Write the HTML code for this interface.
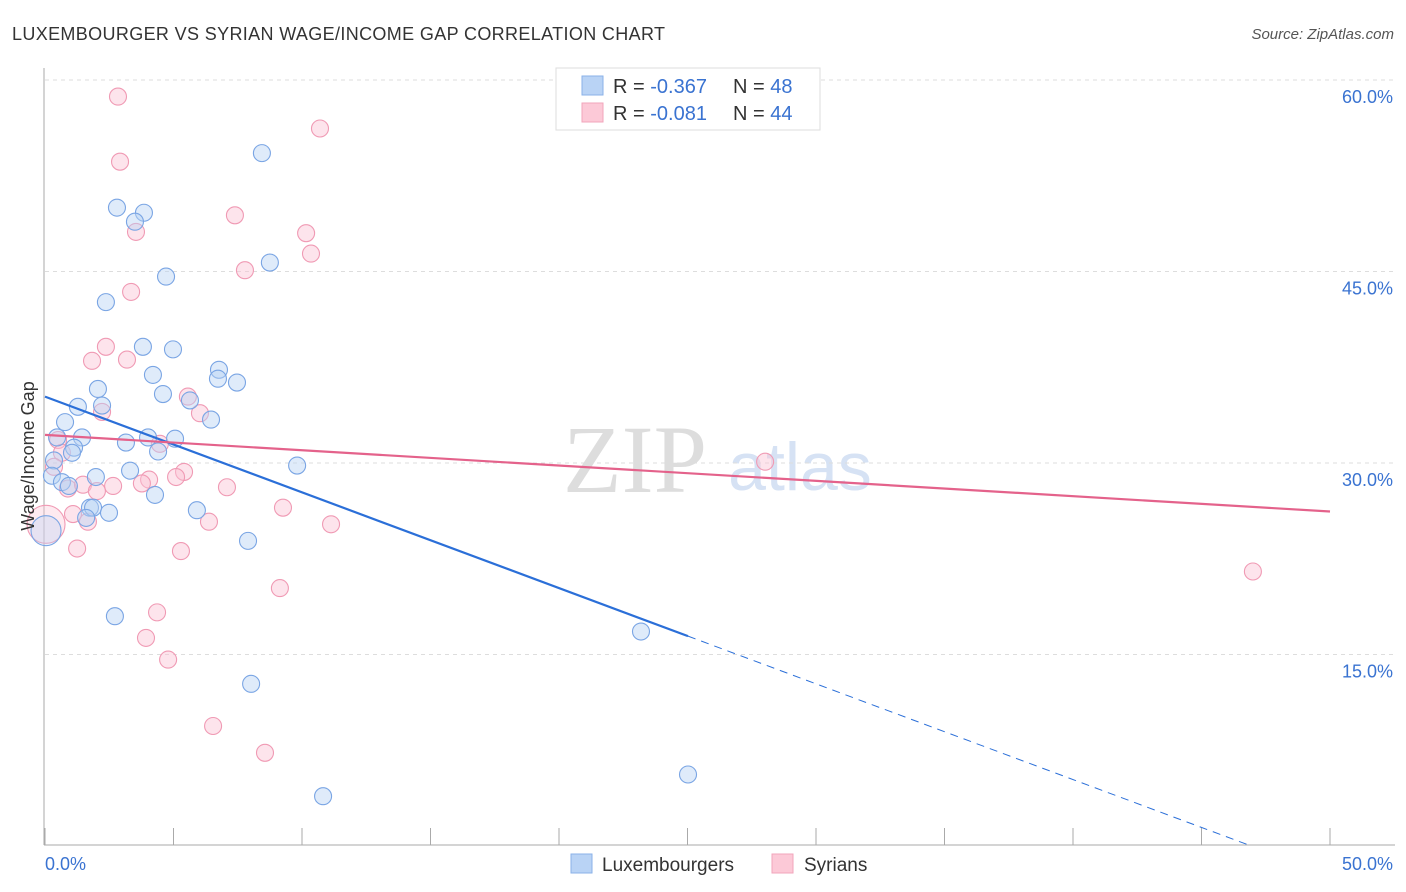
<!DOCTYPE html>
<html><head><meta charset="utf-8"><style>
body{margin:0;background:#fff;font-family:"Liberation Sans",sans-serif;}
svg{display:block}
</style></head><body>
<svg id="chart" width="1406" height="892">
<text x="12" y="40" font-size="18" fill="#333" textLength="653" lengthAdjust="spacing">LUXEMBOURGER VS SYRIAN WAGE/INCOME GAP CORRELATION CHART</text>
<text x="1394" y="39" font-size="15" fill="#555" text-anchor="end" font-style="italic">Source: ZipAtlas.com</text>
<text x="635" y="492" font-size="96" fill="#ddd" text-anchor="middle" font-family="Liberation Serif,serif">ZIP</text>
<text x="800" y="490" font-size="68" fill="#d6e2f4" text-anchor="middle">atlas</text>
<g id="grid"></g><g id="axes"></g><g id="pts"></g><g id="trends"></g>
<text transform="translate(34,456) rotate(-90)" font-size="18" fill="#333" text-anchor="middle">Wage/Income Gap</text>
<g>
<rect x="556" y="68" width="264" height="62" fill="#fff" stroke="#ddd"/>
<rect x="582" y="76" width="21" height="19" fill="#b9d3f5" stroke="#8ab1e8"/>
<rect x="582" y="103" width="21" height="19" fill="#fcc9d7" stroke="#f2a5bb"/>
<text x="613" y="93" font-size="20" fill="#333">R = <tspan fill="#3a73d1">-0.367</tspan><tspan x="733">N = </tspan><tspan fill="#3a73d1">48</tspan></text>
<text x="613" y="120" font-size="20" fill="#333">R = <tspan fill="#3a73d1">-0.081</tspan><tspan x="733">N = </tspan><tspan fill="#3a73d1">44</tspan></text>
</g>
<g>
<rect x="571" y="854" width="21" height="19" fill="#b9d3f5" stroke="#8ab1e8"/>
<text x="602" y="871" font-size="19" fill="#333">Luxembourgers</text>
<rect x="772" y="854" width="21" height="19" fill="#fcc9d7" stroke="#f2a5bb"/>
<text x="804" y="871" font-size="19" fill="#333">Syrians</text>
</g>
</svg>
<script>
const yTicks=[15,30,45,60];
const xTickLabels=["0.0%","50.0%"];
const luxX=[8.44,2.80,3.85,3.50,4.71,8.75,2.37,3.81,4.98,4.20,6.77,6.73,7.47,2.06,4.59,5.64,1.28,2.22,6.46,0.78,0.47,1.44,3.15,4.01,5.06,4.40,1.13,1.05,0.35,3.31,9.81,1.98,0.27,0.66,0.93,4.28,1.75,1.87,2.49,5.91,1.60,7.90,0.04,2.72,23.19,8.02,25.02,10.82];
const luxY=[54.27,50.0,49.6,48.9,44.6,45.7,42.6,39.1,38.9,36.9,37.3,36.6,36.3,35.8,35.4,34.9,34.4,34.5,33.4,33.2,32.0,32.0,31.6,32.0,31.9,30.9,31.2,30.8,30.2,29.4,29.8,28.9,29.0,28.5,28.2,27.5,26.5,26.5,26.1,26.3,25.7,23.9,24.7,18.0,16.8,12.7,5.6,3.9];
const syrX=[2.84,10.70,2.92,7.39,3.54,10.16,10.35,7.78,3.35,2.37,1.83,3.19,5.56,2.22,6.03,0.51,4.47,0.66,0.35,5.41,4.05,5.10,0.89,1.48,2.65,2.02,7.08,3.77,1.09,1.67,9.26,6.38,11.13,0.04,1.25,5.29,9.14,4.36,3.93,4.79,6.54,8.56,28.02,47.00];
const syrY=[58.7,56.2,53.6,49.4,48.1,48.0,46.4,45.1,43.4,39.1,38.0,38.1,35.2,34.0,33.9,31.8,31.5,30.8,29.7,29.3,28.7,28.9,28.0,28.3,28.2,27.8,28.1,28.4,26.0,25.4,26.5,25.4,25.2,25.2,23.3,23.1,20.2,18.3,16.3,14.6,9.4,7.3,30.1,21.5];
const luxTrend=[35.2,-0.7499];
const syrTrend=[32.2,-0.12];
const NS="http://www.w3.org/2000/svg";
const X=v=>45+v*25.7, Y=v=>846-v*12.767;
function mk(p,t,a){const e=document.createElementNS(NS,t);for(const k in a)e.setAttribute(k,a[k]);p.appendChild(e);return e;}
const grid=document.getElementById('grid'),axes=document.getElementById('axes'),pts=document.getElementById('pts'),tr=document.getElementById('trends');
yTicks.forEach(v=>{
 const l=mk(grid,'line',{x1:45,x2:1395,y1:Y(v),y2:Y(v),stroke:'#ddd','stroke-dasharray':'4,4'});
 
 
 const t=mk(grid,'text',{x:1393,y:Y(v)+23,'font-size':18,fill:'#3a73d1','text-anchor':'end'});t.textContent=v.toFixed(1)+'%';
 
 
});
let ax=mk(axes,'line',{x1:44,x2:44,y1:68,y2:845,stroke:'#aaa'});


ax=mk(axes,'line',{x1:44,x2:1395,y1:845,y2:845,stroke:'#aaa'});


for(let i=0;i<=10;i++){const tk=mk(axes,'line',{x1:X(i*5),x2:X(i*5),y1:828,y2:845,stroke:'#aaa'});
 
 }
[[0,'start',45],[50,'end',1393]].forEach((d,i)=>{const t=mk(axes,'text',{x:d[2],y:870,'font-size':18,fill:'#3a73d1','text-anchor':d[1]});t.textContent=xTickLabels[i];
 
 });
function dots(xs,ys,fill,stroke,name){xs.forEach((x,i)=>{const big=x<0.1;const c=mk(pts,'circle',{cx:X(x),cy:Y(ys[i]),r:big?(name=='lux'?15:19):8.5,fill:fill,'fill-opacity':big?0.35:0.45,stroke:stroke,'stroke-width':1.1});
 
 });}
dots(syrX,syrY,'#fbc4d4','#f09ab4','syr');
dots(luxX,luxY,'#b9d3f5','#7aa5e4','lux');
const lx=25.02;
let l=mk(tr,'line',{x1:X(0),y1:Y(luxTrend[0]),x2:X(lx),y2:Y(luxTrend[0]+luxTrend[1]*lx),stroke:'#2b6fd8','stroke-width':2.2});


const xe=-luxTrend[0]/luxTrend[1];
l=mk(tr,'line',{x1:X(lx),y1:Y(luxTrend[0]+luxTrend[1]*lx),x2:X(xe),y2:Y(0),stroke:'#2b6fd8','stroke-width':1,'stroke-dasharray':'8,6'});


l=mk(tr,'line',{x1:X(0),y1:Y(syrTrend[0]),x2:X(50),y2:Y(syrTrend[0]+syrTrend[1]*50),stroke:'#e4628b','stroke-width':2.2});


</script>
</body></html>
